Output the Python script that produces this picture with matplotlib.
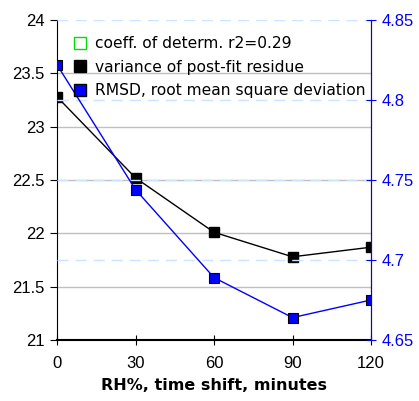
import matplotlib
matplotlib.use("Agg")
import matplotlib.pyplot as plt
from matplotlib.lines import Line2D

plt.rcParams['font.family'] = ['Liberation Sans', 'DejaVu Sans']

time_shift = [0, 30, 60, 90, 120]
variance = [23.28, 22.52, 22.01, 21.78, 21.87]
rmsd = [4.822, 4.744, 4.689, 4.664, 4.675]
left_ticks = [21, 21.5, 22, 22.5, 23, 23.5, 24]
right_ticks = [4.65, 4.7, 4.75, 4.8, 4.85]
x_ticks = [0, 30, 60, 90, 120]
legend_labels = ["coeff. of determ. r2=0.29", "variance of post-fit residue",
                 "RMSD, root mean square deviation"]

fig = plt.figure(figsize=(4.19, 4.01), dpi=100)
ax = fig.add_axes([57/419, 61/401, 314/419, 320/401])
ax2 = ax.twinx()

ax.set_xlim(0, 120)
ax.set_ylim(21, 24)
ax2.set_ylim(4.65, 4.85)

for v in left_ticks[1:-1]:
    ax.axhline(v, color='#c0c0c0', lw=1, zorder=0)
for v in right_ticks[1:]:
    ax2.axhline(v, color='#cce4ff', lw=1, ls=(0, (8, 5)), zorder=0)

ax.plot(time_shift, variance, color='black', lw=1, marker='s', ms=7,
        mfc='black', mec='black', zorder=3)
ax2.plot(time_shift, rmsd, color='blue', lw=1, marker='s', ms=7,
         mfc='blue', mec='black', mew=0.8, zorder=3)

ax.set_xticks(x_ticks)
ax.set_yticks(left_ticks)
ax.set_yticklabels([f"{v:g}" for v in left_ticks])
ax2.set_yticks(right_ticks)
ax2.set_yticklabels([f"{v:g}" for v in right_ticks])

ax.tick_params(axis='y', direction='out', length=5, labelsize=12, colors='black', pad=4)
ax.tick_params(axis='x', direction='inout', length=7, labelsize=12, pad=8)
ax2.tick_params(axis='y', direction='inout', length=7, labelsize=12,
                colors='blue', labelcolor='blue', pad=4)

for a in (ax, ax2):
    a.spines['top'].set_visible(False)
ax.spines['left'].set_color('black')
ax.spines['bottom'].set_color('black')
ax.spines['bottom'].set_linewidth(1.5)
ax2.spines['right'].set_color('blue')
ax2.spines['left'].set_visible(False)
ax2.spines['bottom'].set_visible(False)

ax.set_xlabel("RH%, time shift, minutes", fontsize=11.5, fontweight='bold',
              family=['DejaVu Sans'], labelpad=5)

handles = [
    Line2D([], [], ls='none', marker='s', ms=8, mfc='none', mec='#00dd00', mew=1),
    Line2D([], [], ls='none', marker='s', ms=8, mfc='black', mec='black'),
    Line2D([], [], ls='none', marker='s', ms=8, mfc='blue', mec='black'),
]
leg = ax2.legend(handles, legend_labels, loc='upper left', bbox_to_anchor=(0.005, 0.993),
                 frameon=False, prop={'family': 'DejaVu Sans', 'size': 11.2},
                 handlelength=1.0, handletextpad=0.45, labelspacing=0.55)

fig.savefig("out.png", dpi=100)
